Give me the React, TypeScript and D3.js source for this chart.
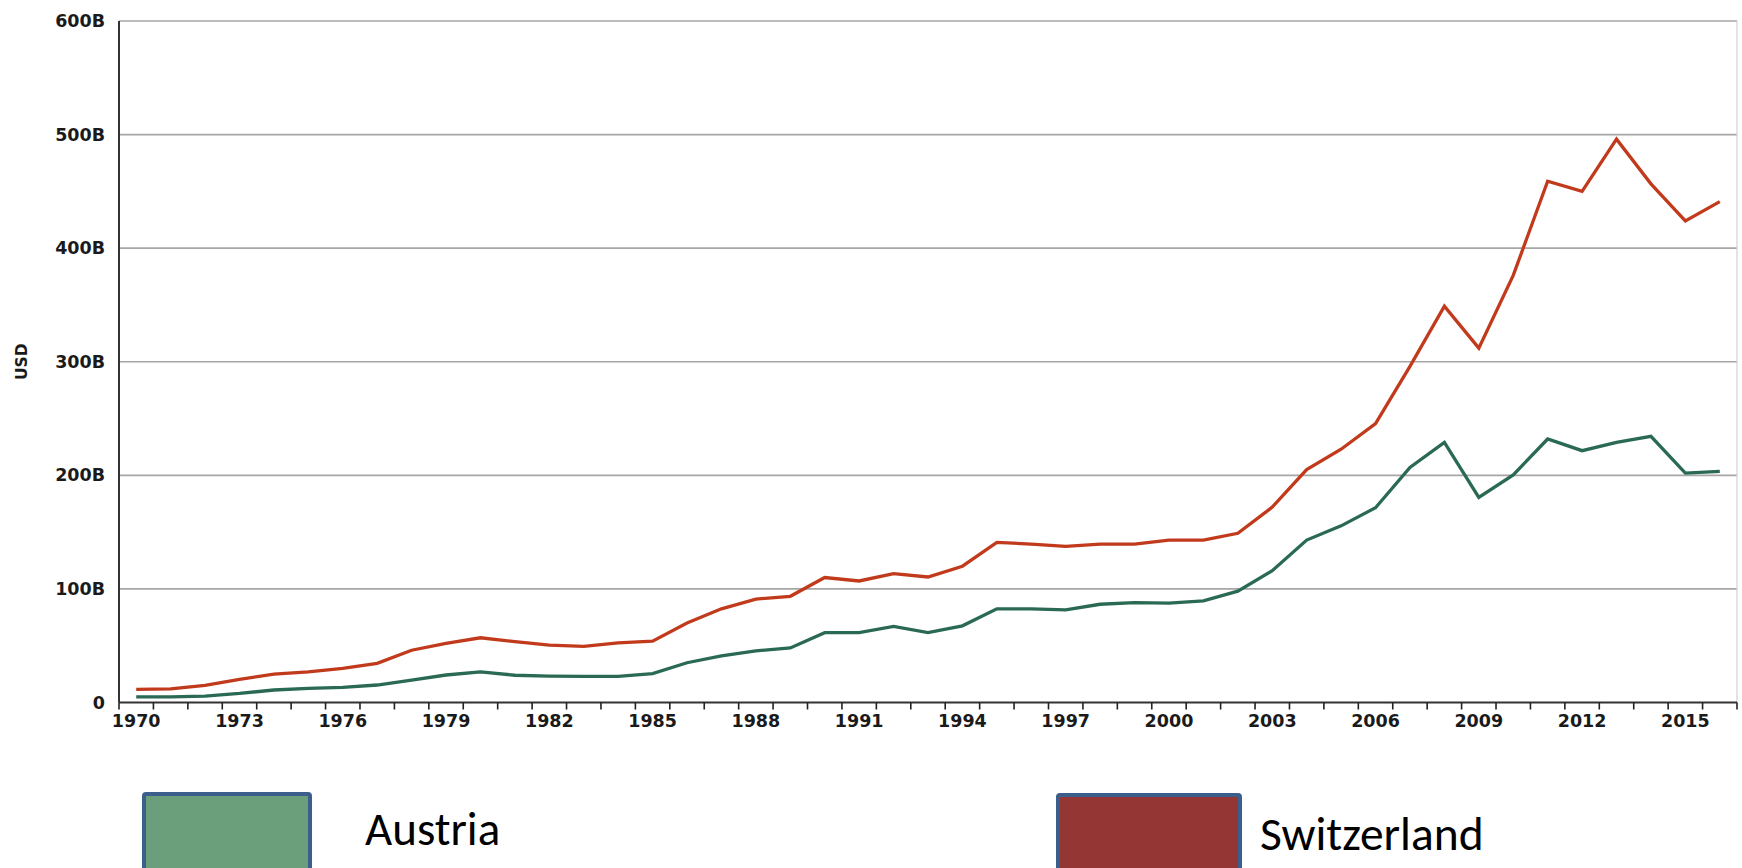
import React from "react";
import * as d3 from "d3";

const years: number[] = [
  1970, 1971, 1972, 1973, 1974, 1975, 1976, 1977, 1978, 1979,
  1980, 1981, 1982, 1983, 1984, 1985, 1986, 1987, 1988, 1989,
  1990, 1991, 1992, 1993, 1994, 1995, 1996, 1997, 1998, 1999,
  2000, 2001, 2002, 2003, 2004, 2005, 2006, 2007, 2008, 2009,
  2010, 2011, 2012, 2013, 2014, 2015, 2016,
];

// values in billions USD
const switzerland: number[] = [
  11.6, 12, 15, 20.4, 25, 27, 30, 34.5, 46, 52,
  57, 53.5, 50.6, 49.5, 52.5, 54, 70, 82.5, 91, 93.5,
  110, 107, 113.5, 110.5, 120, 141, 139.5, 137.5, 139.5, 139.5,
  143, 143, 149, 172, 205, 223, 245.5, 296, 349, 312,
  376, 459, 450, 496, 456.6, 424, 441,
];

const austria: number[] = [
  5, 5, 5.7, 8, 11, 12.5, 13.4, 15.4, 19.8, 24.2,
  27, 24, 23.3, 23, 23, 25.5, 35, 41, 45.5, 48,
  61.5, 61.5, 67, 61.5, 67.5, 82.5, 82.5, 81.5, 86.5, 88,
  87.5, 89.5, 98, 116, 143, 155.5, 171.5, 207, 229, 180.6,
  200.3, 232, 221.7, 229, 234.4, 202, 203.5,
];

const yTicks: number[] = [0, 100, 200, 300, 400, 500, 600];
const yTickLabels: string[] = ["0", "100B", "200B", "300B", "400B", "500B", "600B"];
const xLabelYears: number[] = [1970, 1973, 1976, 1979, 1982, 1985, 1988, 1991, 1994, 1997, 2000, 2003, 2006, 2009, 2012, 2015];

const seriesNames: string[] = ["Austria", "Switzerland"];

export default function App() {
  const W = 1742;
  const H = 868;
  const left = 119;
  const right = 1737;
  const top = 21;
  const bottom = 702.5;

  const x = d3.scaleBand<number>().domain(years).range([left, right]).paddingInner(0).paddingOuter(0);
  const y = d3.scaleLinear().domain([0, 600]).range([bottom, top]);
  const cx = (yr: number) => (x(yr) as number) + x.bandwidth() / 2;

  const line = d3
    .line<number>()
    .x((_, i) => cx(years[i]))
    .y((d) => y(d));

  const tickFont = "'DejaVu Sans', Verdana, sans-serif";
  const legendFont = "Carlito, Calibri, Lato, sans-serif";

  const boundaries = years.map((yr) => x(yr) as number).concat([right]);

  return (
    <svg
      width={W}
      height={H}
      style={{ position: "absolute", left: 0, top: 0, background: "#fff" }}
    >
      {/* gridlines */}
      {yTicks.map((t) =>
        t === 0 ? null : (
          <line key={t} x1={left} x2={right} y1={y(t)} y2={y(t)} stroke="#a6a6a6" strokeWidth={1.6} />
        )
      )}
      {/* right border */}
      <line x1={right} x2={right} y1={top} y2={bottom} stroke="#d0d0d0" strokeWidth={1.2} />

      {/* y tick labels */}
      {yTicks.map((t, i) => (
        <text
          key={"yl" + t}
          x={105}
          y={y(t)}
          textAnchor="end"
          dominantBaseline="central"
          fontFamily={tickFont}
          fontWeight="bold"
          fontSize={17.5}
          fill="#1a1a1a"
        >
          {yTickLabels[i]}
        </text>
      ))}

      {/* y axis title */}
      <text
        transform={`translate(22, ${(top + bottom) / 2}) rotate(-90)`}
        textAnchor="middle"
        dominantBaseline="central"
        fontFamily={tickFont}
        fontWeight="bold"
        fontSize={15.5}
        fill="#1a1a1a"
      >
        USD
      </text>

      {/* lines */}
      <path d={line(switzerland) || ""} fill="none" stroke="#c23a1c" strokeWidth={3.3} strokeLinejoin="miter" />
      <path d={line(austria) || ""} fill="none" stroke="#2b6a52" strokeWidth={3.3} strokeLinejoin="miter" />

      {/* axes */}
      <line x1={left} x2={left} y1={top} y2={bottom} stroke="#333" strokeWidth={2} />
      <line x1={left} x2={right} y1={bottom} y2={bottom} stroke="#333" strokeWidth={2} />
      {boundaries.map((bx, i) => (
        <line key={"tk" + i} x1={bx} x2={bx} y1={bottom} y2={bottom + 7} stroke="#222" strokeWidth={1.6} />
      ))}

      {/* x labels */}
      {xLabelYears.map((yr) => (
        <text
          key={"xl" + yr}
          x={cx(yr)}
          y={727}
          textAnchor="middle"
          fontFamily={tickFont}
          fontWeight="bold"
          fontSize={17.5}
          fill="#1a1a1a"
        >
          {yr}
        </text>
      ))}

      {/* legend */}
      <rect x={144} y={794} width={166} height={90} rx={2} fill="#6b9e7b" stroke="#3c5e8b" strokeWidth={4} />
      <text x={365} y={845} fontFamily={legendFont} fontSize={47} fill="#000">
        {seriesNames[0]}
      </text>
      <rect x={1058} y={795} width={182} height={90} rx={2} fill="#943634" stroke="#3c5e8b" strokeWidth={4} />
      <text x={1260} y={850} fontFamily={legendFont} fontSize={47.5} fill="#000">
        {seriesNames[1]}
      </text>
    </svg>
  );
}
